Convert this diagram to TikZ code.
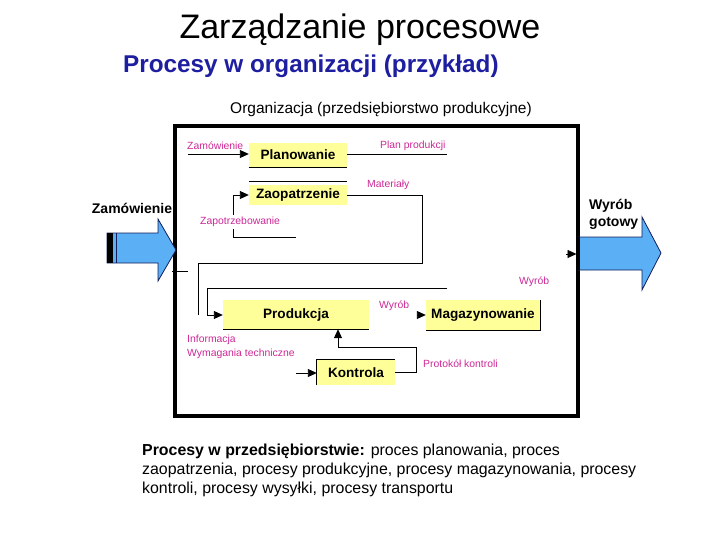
\documentclass[tikz,border=0pt]{standalone}
\usepackage{fontspec}
\setmainfont{Liberation Sans}
\usetikzlibrary{arrows.meta}
\definecolor{boxyellow}{RGB}{255,255,153}
\definecolor{lblmag}{RGB}{204,40,150}
\definecolor{arrblue}{RGB}{90,175,245}
\definecolor{arredge}{RGB}{20,30,90}
\definecolor{subblue}{RGB}{30,30,160}
\begin{document}
\begin{tikzpicture}[x=1pt,y=-1pt,
  proc/.style={fill=boxyellow,inner sep=0,font=\fontsize{13.6}{16}\selectfont\bfseries},
  lbl/.style={text=lblmag,font=\fontsize{10.4}{13.3}\selectfont,inner sep=0,anchor=west},
  conn/.style={draw=black,line width=0.9pt},
  arr/.style={conn,-{Triangle[length=9pt,width=8pt]}},
  bigarrow/.style={fill=arrblue,draw=arredge,line width=0.8pt,line join=miter},
  side/.style={draw=black,line width=1.2pt}]
\useasboundingbox (0,0) rectangle (720,540);

% titles
\node[inner sep=0,anchor=base,font=\fontsize{34}{40}\selectfont] (title) at (360,38.5) {Zarządzanie procesowe};
\node[inner sep=0,anchor=base west,text=subblue,font=\fontsize{24.3}{28}\selectfont\bfseries] (subtitle) at (123,72.5) {Procesy w organizacji (przykład)};
\node[inner sep=0,anchor=base,font=\fontsize{15.5}{18}\selectfont] (orglabel) at (381,113.5) {Organizacja (przedsiębiorstwo produkcyjne)};

% organisation frame
\node[draw,line width=4pt,inner sep=0,minimum width=403pt,minimum height=290pt] (org) at (376.5,271) {};

% process boxes
\node[proc,minimum width=98pt,minimum height=24pt] (plan) at (298,155) {Planowanie};
\node[proc,minimum width=98pt,minimum height=20pt] (zaop) at (298,195) {Zaopatrzenie};
\node[proc,minimum width=146pt,minimum height=29pt] (prod) at (296,314.5) {Produkcja};
\node[proc,minimum width=114pt,minimum height=30pt] (mag) at (483,315) {Magazynowanie};
\node[proc,minimum width=78pt,minimum height=25pt] (kontr) at (356,372.5) {Kontrola};

\draw[side] (plan.south west) -- (plan.south east);
\draw[side] ([yshift=3pt]zaop.north west) -- ([yshift=3pt]zaop.north east);
\draw[side] (prod.south west) -- (prod.south east);
\draw[side] (mag.north east) -- (mag.south east) -- (mag.south west);
\draw[side] (kontr.south west) -- (kontr.north west) -- (kontr.north east);

% coordinates
\coordinate (zin) at (188,154);
\coordinate (planout) at (447,154);
\coordinate (zapstart) at (296,237);
\coordinate (matend) at (198,315);
\coordinate (wyrstart) at (447,288);
\coordinate (kin) at (296,373);
\coordinate (magin) at (417,315);
\coordinate (outa) at (566,254);
\coordinate (outb) at (576.5,254);
\coordinate (sla) at (172,271);
\coordinate (slb) at (188,271);

% connectors
\draw[arr] (zin) -- (plan.west |- zin);
\draw[conn] (plan.east |- planout) -- (planout);
\draw[arr] (zapstart) -- (233,237) -- (233,195) -- (zaop.west);
\draw[conn] (zaop.east) -- (422,195) -- (422,263) -- (198,263) -- (matend);
\draw[arr] (wyrstart) -- (207,288) -- (207,315) -- (prod.west |- 0,315);
\draw[arr] (kontr.east) -- (416,372.5) -- (416,347) -- (338,347) -- (prod.south -| 338,0);
\draw[arr] (kin) -- (kontr.west |- kin);
\draw[arr] (magin) -- (mag.west);
\draw[arr] (outa) -- (outb);
\draw[conn] (sla) -- (slb);

% labels
\node[lbl] (lzam) at (187,146) {Zamówienie};
\node[lbl] (lplan) at (380,145.5) {Plan produkcji};
\node[lbl] (lmat) at (367,185) {Materiały};
\node[lbl,fill=white,inner ysep=2pt] (lzap) at (200,222) {Zapotrzebowanie};
\node[lbl] (lwyr1) at (519,282) {Wyrób};
\node[lbl] (lwyr2) at (379,306) {Wyrób};
\node[lbl,anchor=base west,align=left] (linf) at (187,356) {Informacja\\Wymagania techniczne};
\node[lbl] (lprot) at (423,364) {Protokół kontroli};

% big arrows
\draw[bigarrow] (107,233) -- (158,233) -- (158,219) -- (176,250) -- (158,281) -- (158,263) -- (107,263) -- cycle;
\fill[black] (107,233) rectangle (113,263);
\draw[arredge,line width=1pt] (116,233) -- (116,263);
\draw[bigarrow] (578,237) -- (642,237) -- (642,217) -- (661,253) -- (642,290) -- (642,270) -- (578,270) -- cycle;
\draw[line width=4pt] (578,237) -- (578,270);

\node[inner sep=0,font=\fontsize{14}{17}\selectfont\bfseries] (zamin) at (132,208) {Zamówienie};
\node[inner sep=0,anchor=base west,align=left,font=\fontsize{14}{17}\selectfont\bfseries] (wyrout) at (589,226) {Wyrób\\gotowy};

% bottom text
\node[inner sep=0,anchor=base west,align=left,font=\fontsize{15.9}{19}\selectfont] (desc) at (142,493)
 {\textbf{Procesy w przedsiębiorstwie:} proces planowania, proces\\
  zaopatrzenia, procesy produkcyjne, procesy magazynowania, procesy\\
  kontroli, procesy wysyłki, procesy transportu};
\end{tikzpicture}
\end{document}
